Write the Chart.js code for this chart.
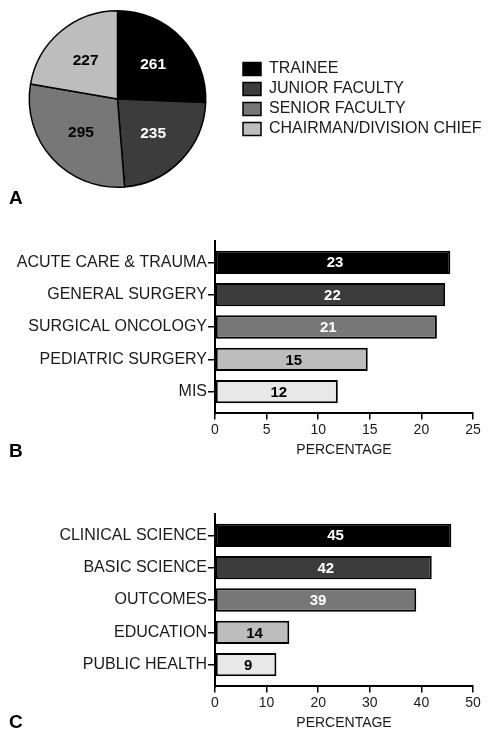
<!DOCTYPE html>
<html>
<head>
<meta charset="utf-8">
<script src="https://cdn.jsdelivr.net/npm/chart.js@4/dist/chart.umd.min.js"></script>
<style>
  html, body { margin: 0; padding: 0; background: #fff; }
  body { width: 496px; height: 738px; position: relative; overflow: hidden; font-family: 'Liberation Sans', Arial, sans-serif; }
  .box { position: absolute; left: 0; width: 496px; }
  .panel-letter { position: absolute; left: 9px; font-weight: bold; font-size: 19px; color: #000; line-height: 1; }
</style>
</head>
<body>
<div class="box" style="top:0;left:-9px;width:505px;height:198px"><canvas id="pieChart"></canvas></div>
<div class="box" style="top:230px;height:229px"><canvas id="barB"></canvas></div>
<div class="box" style="top:503px;height:229px"><canvas id="barC"></canvas></div>
<div class="panel-letter" style="top:188px">A</div>
<div class="panel-letter" style="top:441px">B</div>
<div class="panel-letter" style="top:712px">C</div>
<script>
// panel A - positions (counts)
const roleLabels = ['TRAINEE', 'JUNIOR FACULTY', 'SENIOR FACULTY', 'CHAIRMAN/DIVISION CHIEF'];
const roleCounts = [261, 235, 295, 227];
const roleColors = ['#000000', '#3c3c3c', '#777777', '#bdbdbd'];
const roleTextColors = ['#ffffff', '#ffffff', '#000000', '#000000'];

// panel B - clinical specialty (%)
const specialtyLabels = ['ACUTE CARE & TRAUMA', 'GENERAL SURGERY', 'SURGICAL ONCOLOGY', 'PEDIATRIC SURGERY', 'MIS'];
const specialtyValues = [22.8, 22.3, 21.5, 14.8, 11.9];
const specialtyShown = ['23', '22', '21', '15', '12'];

// panel C - research focus (%)
const researchLabels = ['CLINICAL SCIENCE', 'BASIC SCIENCE', 'OUTCOMES', 'EDUCATION', 'PUBLIC HEALTH'];
const researchValues = [45.8, 42.0, 39.0, 14.4, 11.9];
const researchShown = ['45', '42', '39', '14', '9'];

const barColors = ['#000000', '#3c3c3c', '#777777', '#bdbdbd', '#e8e8e8'];
const barTextColors = ['#ffffff', '#ffffff', '#ffffff', '#000000', '#000000'];

const xTicksB = [0, 5, 10, 15, 20, 25];
const xTicksC = [0, 10, 20, 30, 40, 50];

const FONT = "'Liberation Sans', Arial, sans-serif";
Chart.defaults.font.family = FONT;
Chart.defaults.color = '#1a1a1a';
Chart.defaults.animation = false;

// numbers inside the pie slices
const pieLabelPlugin = {
    id: 'pieLabels',
    afterDatasetsDraw(chart) {
        const ctx = chart.ctx;
        const meta = chart.getDatasetMeta(0);
        ctx.save();
        ctx.font = 'bold 15.5px ' + FONT;
        ctx.textAlign = 'center';
        ctx.textBaseline = 'middle';
        meta.data.forEach((arc, i) => {
            const mid = (arc.startAngle + arc.endAngle) / 2;
            const r = arc.outerRadius * 0.56;
            ctx.fillStyle = roleTextColors[i];
            ctx.fillText(String(roleCounts[i]), arc.x + Math.cos(mid) * r, arc.y + Math.sin(mid) * r);
        });
        ctx.restore();
    }
};

// numbers inside the bars
function barLabelPlugin(shown) {
    return {
        id: 'barLabels',
        afterDatasetsDraw(chart) {
            const ctx = chart.ctx;
            const meta = chart.getDatasetMeta(0);
            ctx.save();
            ctx.font = 'bold 15px ' + FONT;
            ctx.textAlign = 'center';
            ctx.textBaseline = 'middle';
            meta.data.forEach((bar, i) => {
                ctx.fillStyle = barTextColors[i];
                ctx.fillText(shown[i], (bar.x + bar.base) / 2 + 2, bar.y + 1);
            });
            ctx.restore();
        }
    };
}

new Chart(document.getElementById('pieChart'), {
    type: 'pie',
    data: {
        labels: roleLabels,
        datasets: [{
            data: roleCounts,
            backgroundColor: roleColors,
            borderColor: '#000000',
            borderWidth: 1.5
        }]
    },
    options: {
        responsive: true,
        maintainAspectRatio: false,
        layout: { padding: { top: 10, bottom: 10, left: 5, right: 14 } },
        plugins: {
            tooltip: { enabled: false },
            legend: {
                position: 'right',
                labels: {
                    boxWidth: 18,
                    boxHeight: 13,
                    padding: 4,
                    color: '#1a1a1a',
                    font: { size: 16 }
                }
            }
        }
    },
    plugins: [pieLabelPlugin]
});

function makeBarChart(id, labels, values, shown, xTicks) {
    const points = values.map((v, i) => ({ x: v, y: i }));
    return new Chart(document.getElementById(id), {
        type: 'bar',
        data: {
            datasets: [{
                data: points,
                backgroundColor: barColors,
                borderColor: '#000000',
                borderWidth: 2,
                borderSkipped: false
            }]
        },
        options: {
            indexAxis: 'y',
            responsive: true,
            maintainAspectRatio: false,
            layout: { padding: { top: 10, right: 23, left: 0, bottom: 0 } },
            plugins: { legend: { display: false }, tooltip: { enabled: false } },
            scales: {
                y: {
                    type: 'linear',
                    reverse: true,
                    offset: false,
                    min: -0.67,
                    max: 4.67,
                    afterBuildTicks: (scale) => {
                        scale.ticks = labels.map((l, i) => ({ value: i }));
                    },
                    afterFit: (scale) => { scale.width = 215; },
                    ticks: {
                        autoSkip: false,
                        padding: 1,
                        color: '#1a1a1a',
                        font: { size: 16 },
                        callback: (v) => labels[v]
                    },
                    grid: { offset: false, drawOnChartArea: false, tickLength: 7, color: '#000', lineWidth: 1.5 },
                    border: { color: '#000', width: 2 }
                },
                x: {
                    type: 'linear',
                    min: xTicks[0],
                    max: xTicks[xTicks.length - 1],
                    afterBuildTicks: (scale) => {
                        scale.ticks = xTicks.map(v => ({ value: v }));
                    },
                    ticks: { padding: 2, color: '#1a1a1a', font: { size: 14 }, maxRotation: 0 },
                    grid: { drawOnChartArea: false, tickLength: 6, color: '#000', lineWidth: 1.5 },
                    border: { color: '#000', width: 2 },
                    title: {
                        display: true,
                        text: 'PERCENTAGE',
                        color: '#1a1a1a',
                        font: { size: 14 },
                        padding: { top: 2, bottom: 0 }
                    }
                }
            }
        },
        plugins: [barLabelPlugin(shown)]
    });
}

makeBarChart('barB', specialtyLabels, specialtyValues, specialtyShown, xTicksB);
makeBarChart('barC', researchLabels, researchValues, researchShown, xTicksC);
</script>
</body>
</html>
